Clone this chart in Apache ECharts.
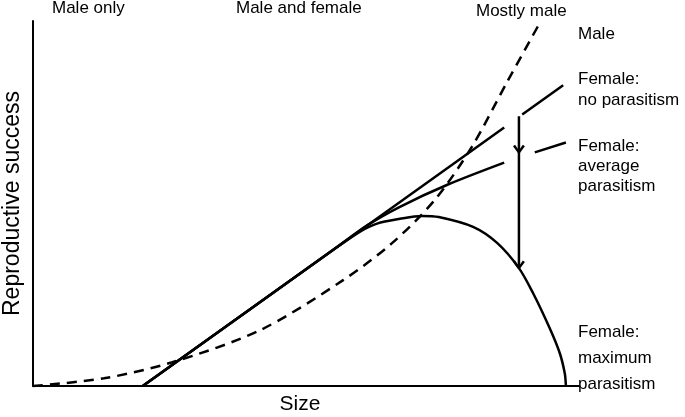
<!DOCTYPE html>
<html><head><meta charset="utf-8">
<script src="https://cdn.jsdelivr.net/npm/echarts@6/dist/echarts.min.js"></script>
<style>html,body{margin:0;padding:0;background:#fff}#c{width:685px;height:417px}</style>
</head><body><div id="c"></div>
<script>
// Data (arbitrary units: size 0-100, reproductive success 0-100)
const male = [[0,0],[13,2.1],[25.5,6.5],[41.6,15.3],[56.8,29],[65.8,39.2],[73.6,51],[80.4,65.6],[86.8,83.2],[92.9,99.7]];
const femaleNone1 = [[20.1,0],[86.3,70.8]];
const femaleNone2 = [[89.6,74.4],[97.1,82.4]];
const femaleAvg1 = [[20.1,0],[55,37.3],[61.2,44.0],[67.2,49.1],[76,55.2],[86.3,61.2]];
const femaleAvg2 = [[91.9,64],[97.6,66.7]];
const femaleMaxRise = [[20.1,0],[55,37.3]];
const femaleMax = [[55,37.3],[59.9,42.3],[63,44.5],[67.2,45.8],[71.2,46.6],[74.3,46.3],[80.6,43.6],[85,39.2],[89,32.3],[91.6,25.4],[94.7,15.6],[96.5,8.9],[97.4,3.4],[97.6,0]];
const arrowShaft = [[89,73.9],[89,32.3]];
const arrowHeadMid = [[88.1,65.9],[89,64],[89.9,65.9]];
const arrowHeadEnd = [[88.1,34.2],[89,32.3],[89.9,34.2]];
const topLabels = ['Male only','Male and female','Mostly male'];
const sideLabels = ['Male','Female:\nno parasitism','Female:\naverage\nparasitism','Female:\nmaximum\nparasitism'];
const xName = 'Size';
const yName = 'Reproductive success';

const chart = echarts.init(document.getElementById('c'));
const font = 'Liberation Sans, Arial, sans-serif';
function ln(data, opts){
  return Object.assign({type:'line', data:data, symbol:'none', silent:true, clip:false,
    lineStyle:{color:'#000', width:2.5}}, opts||{});
}
chart.setOption({
  animation:false,
  grid:{left:33, right:106, top:21, bottom:31, containLabel:false, outerBoundsMode:'none'},
  xAxis:{type:'value', min:0, max:100, axisLine:{show:true, lineStyle:{color:'#000', width:2}},
    axisTick:{show:false}, axisLabel:{show:false}, splitLine:{show:false},
    name:xName, nameLocation:'middle', nameGap:8,
    nameTextStyle:{fontFamily:font, fontSize:21, color:'#000', padding:[0,12,0,0]}},
  yAxis:{type:'value', min:0, max:100, axisLine:{show:true, lineStyle:{color:'#000', width:2}},
    axisTick:{show:false}, axisLabel:{show:false}, splitLine:{show:false},
    name:yName, nameLocation:'middle', nameGap:9, nameTextStyle:{fontFamily:font, fontSize:23, color:'#000'}},
  series:[
    ln(male, {lineStyle:{color:'#000', width:2.5, type:[10,7]}, smooth:0.3}),
    ln(femaleNone1), ln(femaleNone2),
    ln(femaleAvg1, {smooth:0.3}), ln(femaleAvg2),
    ln(femaleMaxRise), ln(femaleMax, {smooth:0.3}),
    ln(arrowShaft), ln(arrowHeadMid), ln(arrowHeadEnd)
  ],
  graphic:[
    {type:'text', left:52, top:0, style:{text:topLabels[0], font:'17px '+font, fill:'#000'}},
    {type:'text', left:236, top:0, style:{text:topLabels[1], font:'17px '+font, fill:'#000'}},
    {type:'text', left:476, top:3, style:{text:topLabels[2], font:'17px '+font, fill:'#000'}},
    {type:'text', left:578, top:24, style:{text:sideLabels[0], font:'17px '+font, fill:'#000', lineHeight:20}},
    {type:'text', left:578, top:69, style:{text:sideLabels[1], font:'17px '+font, fill:'#000', lineHeight:21}},
    {type:'text', left:578, top:136, style:{text:sideLabels[2], font:'17px '+font, fill:'#000', lineHeight:20}},
    {type:'text', left:578, top:319, style:{text:sideLabels[3], font:'17px '+font, fill:'#000', lineHeight:26}}
  ]
});
</script></body></html>
